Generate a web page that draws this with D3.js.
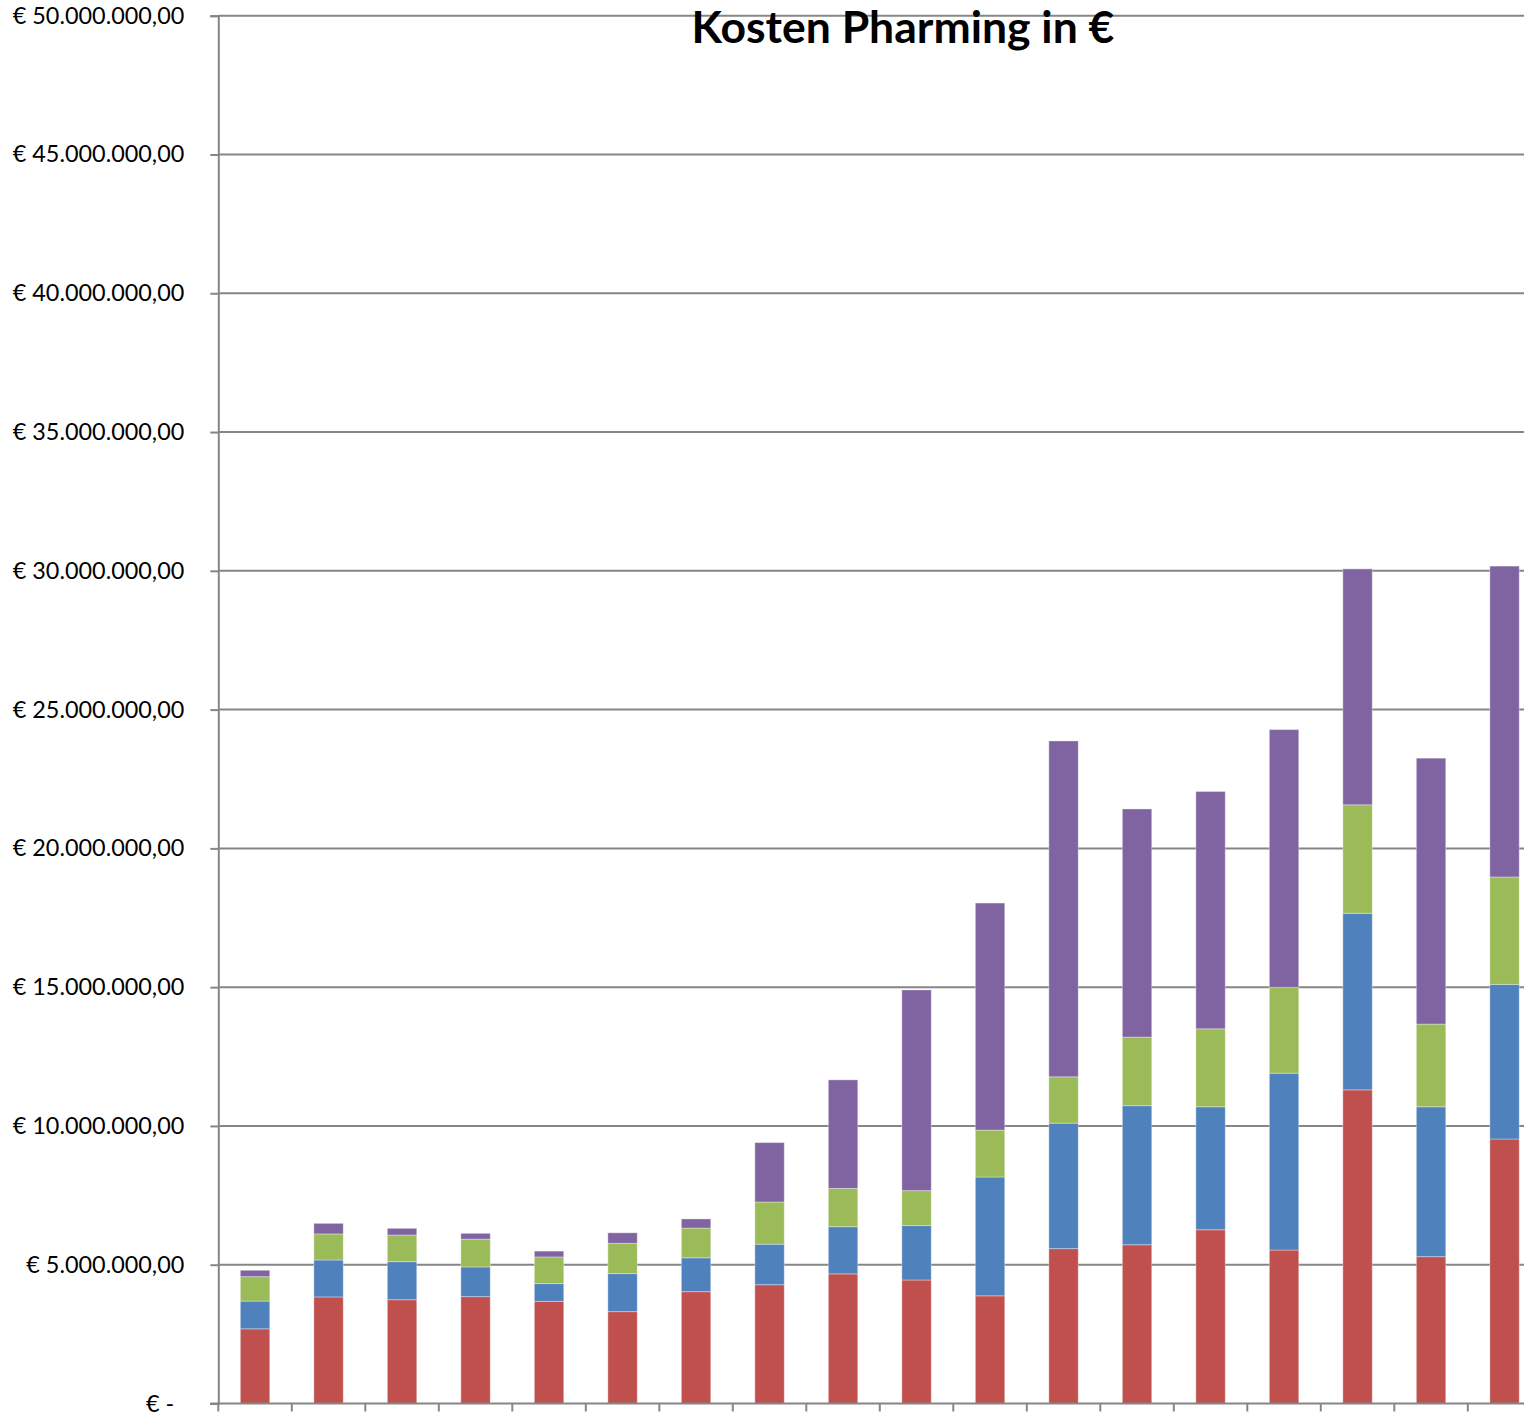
<!DOCTYPE html>
<html>
<head>
<meta charset="utf-8">
<script src="https://cdn.jsdelivr.net/npm/d3@7"></script>
<style>
  body { margin: 0; background: #fff; overflow: hidden; }
  svg { display: block; }
  .tick text { font-family: Lato, "Open Sans", sans-serif; }
</style>
</head>
<body>
<div id="chart"></div>
<script>
// categories have no visible labels in the original
const categories = d3.range(1, 19).map(String);
const seriesNames = ["Rot", "Blau", "Grün", "Lila"];

// values in millions of euro, stacked bottom to top
const red    = [2.69, 3.84, 3.74, 3.85, 3.68, 3.31, 4.03, 4.28, 4.67, 4.45, 3.88, 5.58, 5.72, 6.26, 5.53, 11.30, 5.29, 9.53];
const blue   = [1.00, 1.33, 1.37, 1.07, 0.64, 1.37, 1.22, 1.46, 1.70, 1.96, 4.28, 4.52, 5.01, 4.43, 6.37, 6.36, 5.40, 5.57];
const green  = [0.88, 0.94, 0.96, 1.00, 0.96, 1.09, 1.07, 1.52, 1.38, 1.26, 1.69, 1.67, 2.47, 2.81, 3.09, 3.91, 2.98, 3.87];
const purple = [0.23, 0.38, 0.24, 0.21, 0.21, 0.38, 0.33, 2.14, 3.91, 7.23, 8.18, 12.10, 8.22, 8.55, 9.29, 8.50, 9.58, 11.20];

const yTicks = d3.range(0, 50000001, 5000000);
const colors = ["#C0504D", "#4F81BD", "#9BBB59", "#8064A2"];

const width = 1524, height = 1418;
const plotLeft = 218.3, plotRight = 1541.3, plotTop = 15.7, plotBottom = 1403.5;

const rows = categories.map((c, i) => ({
  cat: c,
  Rot: red[i] * 1e6,
  Blau: blue[i] * 1e6,
  "Grün": green[i] * 1e6,
  Lila: purple[i] * 1e6
}));

const stack = d3.stack().keys(seriesNames)(rows);

const x = d3.scaleBand()
    .domain(categories)
    .range([plotLeft, plotRight])
    .paddingInner(0.6)
    .paddingOuter(0.3);

const y = d3.scaleLinear()
    .domain([0, 50000000])
    .range([plotBottom, plotTop]);

const locale = d3.formatLocale({decimal: ",", thousands: ".", grouping: [3], currency: ["€ ", ""]});
const fmt = locale.format(",.2f");

const svg = d3.select("#chart")
  .append("svg")
    .attr("width", width)
    .attr("height", height);

// gridlines
svg.append("g")
  .selectAll("line")
  .data(yTicks.slice(1))
  .join("line")
    .attr("x1", plotLeft)
    .attr("x2", width)
    .attr("y1", d => y(d))
    .attr("y2", d => y(d))
    .attr("stroke", "#868686")
    .attr("stroke-width", 2);

// bars
svg.append("g")
  .selectAll("g")
  .data(stack)
  .join("g")
    .attr("fill", (d, i) => colors[i])
  .selectAll("rect")
  .data(d => d)
  .join("rect")
    .attr("x", d => x(d.data.cat))
    .attr("width", x.bandwidth())
    .attr("y", d => y(d[1]))
    .attr("height", d => y(d[0]) - y(d[1]))
    .attr("stroke", "#fff")
    .attr("stroke-opacity", 0.35)
    .attr("stroke-width", 1);

// y axis
const yAxis = svg.append("g")
    .attr("transform", "translate(" + plotLeft + ",0)")
    .call(d3.axisLeft(y)
      .tickValues(yTicks)
      .tickSize(8)
      .tickPadding(26)
      .tickFormat(d => d === 0 ? "€ -" : "€ " + fmt(d)));

yAxis.select(".domain")
    .attr("stroke", "#868686")
    .attr("stroke-width", 2);
yAxis.selectAll(".tick line")
    .attr("stroke", "#868686")
    .attr("stroke-width", 2);
yAxis.selectAll(".tick text")
    .attr("fill", "#000")
    .attr("font-size", 23.4)
    .attr("dx", d => d === 0 ? -10 : 0);

// x axis line with boundary ticks
const step = x.step();
svg.append("line")
    .attr("x1", plotLeft - 8)
    .attr("x2", width)
    .attr("y1", plotBottom)
    .attr("y2", plotBottom)
    .attr("stroke", "#868686")
    .attr("stroke-width", 2);

svg.append("g")
  .selectAll("line")
  .data(d3.range(categories.length + 1))
  .join("line")
    .attr("x1", i => plotLeft + i * step)
    .attr("x2", i => plotLeft + i * step)
    .attr("y1", plotBottom)
    .attr("y2", plotBottom + 8)
    .attr("stroke", "#868686")
    .attr("stroke-width", 2);

// title
svg.append("text")
    .attr("x", 903)
    .attr("y", 43)
    .attr("text-anchor", "middle")
    .attr("font-family", "Lato, 'Open Sans', sans-serif")
    .attr("font-weight", "bold")
    .attr("font-size", 44.5)
    .text("Kosten Pharming in €");
</script>
</body>
</html>
